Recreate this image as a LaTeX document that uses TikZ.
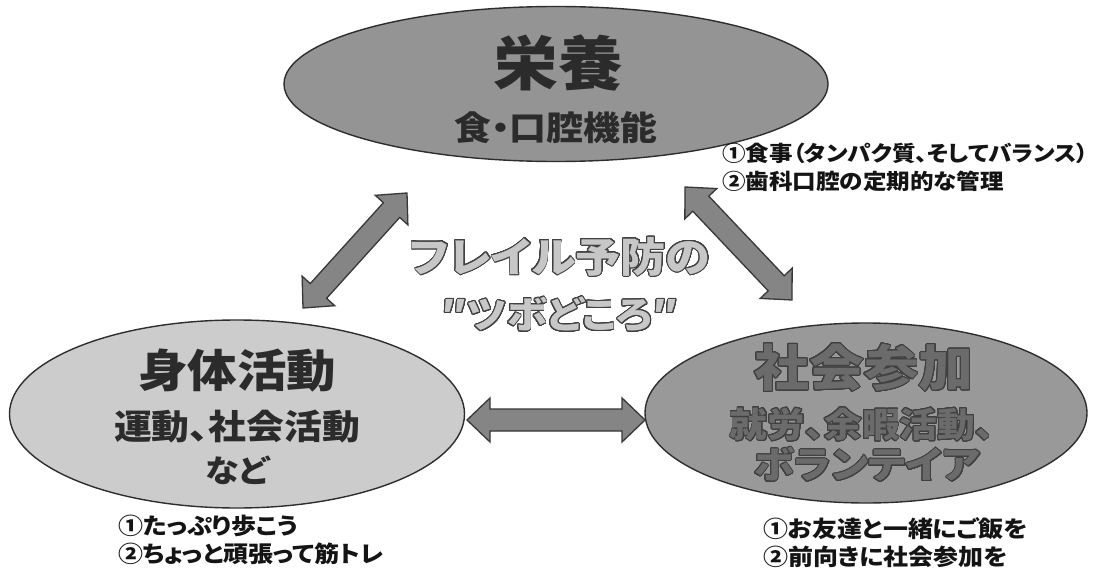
\documentclass[tikz,border=0pt]{standalone}
\usepackage{fontspec}
\setmainfont{Noto Sans CJK JP}[FakeStretch=1.1, RawFeature=+palt]
\usepackage{contour}
\contournumber{32}
\usetikzlibrary{shapes.geometric,calc}
\definecolor{topfill}{gray}{0.58}
\definecolor{leftfill}{gray}{0.80}
\definecolor{rightfill}{gray}{0.60}
\definecolor{ellline}{gray}{0.18}
\definecolor{arrfill}{gray}{0.52}
\definecolor{arrline}{gray}{0.22}
\definecolor{darktext}{gray}{0.17}
\definecolor{midtext}{gray}{0.42}
\definecolor{lighttext}{gray}{0.78}
\definecolor{outlinecol}{gray}{0.25}
\definecolor{notecol}{gray}{0.08}
\newcommand{\dblblock}[2]{%
  \draw[arrowbody] (#1)
    -- ($(#1)!23pt!(#2)!22pt!90:(#2)$)
    -- ($(#1)!23pt!(#2)!11pt!90:(#2)$)
    -- ($(#2)!23pt!(#1)!11pt!-90:(#1)$)
    -- ($(#2)!23pt!(#1)!22pt!-90:(#1)$)
    -- (#2)
    -- ($(#2)!23pt!(#1)!22pt!90:(#1)$)
    -- ($(#2)!23pt!(#1)!11pt!90:(#1)$)
    -- ($(#1)!23pt!(#2)!11pt!-90:(#2)$)
    -- ($(#1)!23pt!(#2)!22pt!-90:(#2)$)
    -- cycle;}
\newcommand{\fsz}[1]{\fontsize{#1}{#1}\selectfont\bfseries}
\begin{document}
\begin{tikzpicture}[x=1pt,y=-1pt,
  blob/.style={ellipse, draw=ellline, line width=1.4pt, inner sep=0pt},
  lbl/.style={inner sep=0pt, anchor=center},
  note/.style={anchor=west, inner sep=0pt, text=notecol, font=\fsz{22.7}},
  arrowbody/.style={fill=arrfill, draw=arrline, line width=1.3pt, line join=miter}]
\useasboundingbox (0,0) rectangle (1102,575);
\fill[white] (0,0) rectangle (1102,575);

% ellipses
\node[blob, fill=topfill, minimum width=544pt, minimum height=155pt] (eiyo) at (556,84) {};
\node[blob, fill=leftfill, minimum width=455pt, minimum height=188pt] (shintai) at (237,414) {};
\node[blob, fill=rightfill, minimum width=442pt, minimum height=180pt] (shakai) at (866,413) {};

% ellipse texts
\node[lbl, text=darktext, font=\fsz{59}] (eiyoT) at (558,63) {栄養};
\node[lbl, text=darktext, font=\fsz{33.5}] (eiyoS) at (556,128) {食・口腔機能};

\node[lbl, text=darktext, font=\fsz{45}] (shintaiT) at (237,371) {身体活動};
\node[lbl, text=darktext, font=\fsz{34.4}] (shintaiS) at (237,427) {運動、社会活動};
\node[lbl, text=darktext, font=\fsz{31}] (shintaiN) at (237,470) {など};

\contourlength{0.9pt}
\node[lbl, font=\fsz{49.8}] (shakaiT) at (864,368) {\contour{outlinecol}{\textcolor{midtext}{社会参加}}};
\node[lbl, font=\fsz{34.3}] (shakaiS) at (862,425) {\contour{outlinecol}{\textcolor{midtext}{就労、余暇活動、}}};
\node[lbl, font=\fsz{37}] (shakaiN) at (867,465) {\contour{outlinecol}{\textcolor{midtext}{ボランテイア}}};

% center title
\node[lbl, font=\fsz{41}] (title1) at (560,257) {\contour{outlinecol}{\textcolor{lighttext}{フレイル予防の}}};
\node[lbl, font=\fsz{37}] (title2) at (560,315) {\contour{outlinecol}{\textcolor{lighttext}{″ツボどころ″}}};

% arrows
\coordinate (a1s) at (303,308);
\coordinate (a1e) at (407,193);
\coordinate (a2s) at (685,187);
\coordinate (a2e) at (792,300);
\coordinate (a3s) at (467,420);
\coordinate (a3e) at (645,420);
\dblblock{a1s}{a1e}
\dblblock{a2s}{a2e}
\dblblock{a3s}{a3e}

% notes
\node[note, font=\fsz{21.4}] (n1a) at (722,153) {①食事（タンパク質、そしてバランス）};
\node[note, font=\fsz{21.4}] (n1b) at (722,181) {②歯科口腔の定期的な管理};
\node[note] (n2a) at (118,526) {①たっぷり歩こう};
\node[note] (n2b) at (118,554) {②ちょっと頑張って筋トレ};
\node[note] (n3a) at (763,529) {①お友達と一緒にご飯を};
\node[note] (n3b) at (763,557) {②前向きに社会参加を};
\end{tikzpicture}
\end{document}
